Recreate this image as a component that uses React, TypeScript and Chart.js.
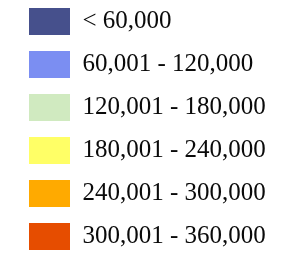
import React, { useEffect, useRef } from "react";
import { Chart, registerables } from "chart.js";

Chart.register(...registerables);

const categories = [
  "< 60,000",
  "60,001 - 120,000",
  "120,001 - 180,000",
  "180,001 - 240,000",
  "240,001 - 300,000",
  "300,001 - 360,000",
];
const colors = ["#46508c", "#7b8ef2", "#d0eac0", "#ffff66", "#ffaa00", "#e64d00"];

export default function App() {
  const ref = useRef<HTMLCanvasElement | null>(null);
  useEffect(() => {
    if (!ref.current) return;
    const chart = new Chart(ref.current, {
      type: "bar",
      data: {
        labels: [],
        datasets: categories.map((c, i) => ({
          label: c,
          data: [],
          backgroundColor: colors[i],
          borderWidth: 0,
        })),
      },
      options: {
        animation: false,
        responsive: false,
        events: [],
        layout: { padding: { left: 13, top: -8, right: 0, bottom: 0 } },
        scales: { x: { display: false }, y: { display: false } },
        plugins: {
          tooltip: { enabled: false },
          legend: {
            display: true,
            position: "top",
            align: "start",
            maxHeight: 2000,
            maxWidth: 2000,
            labels: {
              boxWidth: 41,
              boxHeight: 27,
              padding: 16,
              color: "#0a0a0a",
              font: { family: "'Liberation Serif', serif", size: 25 },
            },
          },
        },
      },
    });
    return () => chart.destroy();
  }, []);
  return (
    <div style={{ position: "absolute", left: 0, top: 0, width: 307, height: 253 }}>
      <canvas ref={ref} width={307} height={253} style={{ width: 307, height: 253 }} />
    </div>
  );
}
